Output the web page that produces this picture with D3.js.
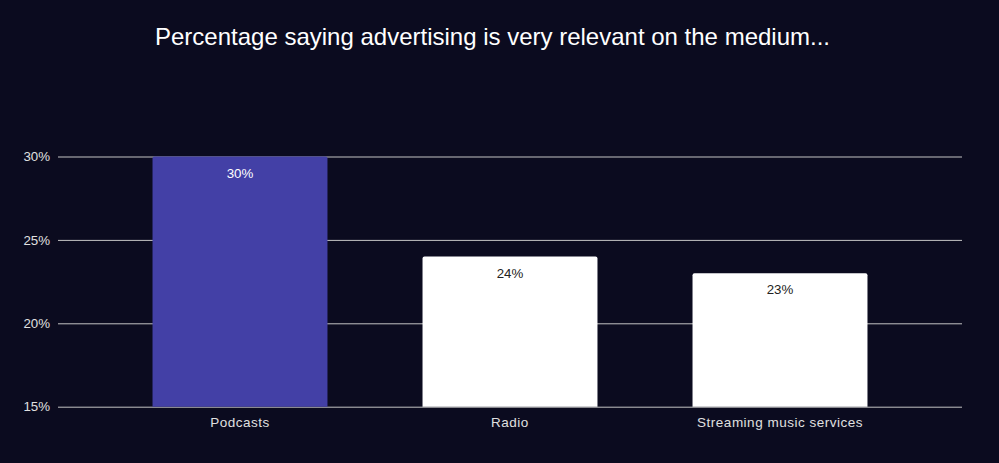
<!DOCTYPE html>
<html><head><meta charset="utf-8">
<script src="https://cdn.jsdelivr.net/npm/d3@7"></script>
<style>html,body{margin:0;padding:0;background:#0b0b1f;}svg{display:block;}</style>
</head><body>
<script>
const categories = ["Podcasts", "Radio", "Streaming music services"];
const values = [30, 24, 23];
const barColors = ["#4340a6", "#ffffff", "#ffffff"];
const labelColors = ["#ffffff", "#222222", "#222222"];
const yTicks = [15, 20, 25, 30];
const title = "Percentage saying advertising is very relevant on the medium...";

const W = 999, H = 463;
const svg = d3.select("body").append("svg").attr("width", W).attr("height", H);
svg.append("rect").attr("width", W).attr("height", H).attr("fill", "#0b0b1f");

const x = d3.scaleBand().domain(categories).range([105, 915]).paddingInner(0.352).paddingOuter(0.176);
const y = d3.scaleLinear().domain([15, 30]).range([406.7, 156.5]);
const gridL = 58, gridR = 962;

svg.append("text").attr("x", 492.5).attr("y", 45).attr("text-anchor", "middle")
  .attr("fill", "#ffffff").attr("font-family", "Liberation Sans, Arial, sans-serif")
  .attr("font-size", 24).text(title);

const yAxis = svg.append("g").attr("transform", `translate(${gridL},0)`)
  .call(d3.axisLeft(y).tickValues(yTicks).tickSize(-(gridR - gridL)).tickPadding(8).tickFormat(d => d + "%"));
yAxis.select(".domain").remove();
yAxis.selectAll(".tick line").attr("stroke", "#c4c4c4").attr("stroke-width", 1);
yAxis.selectAll(".tick text").attr("fill", "#e0e0e0").attr("font-size", 13.3)
  .attr("font-family", "Liberation Sans, Arial, sans-serif");

const bw = x.bandwidth();
const r = 2;
svg.append("g").selectAll("path").data(categories).join("path")
  .attr("d", (c, i) => {
    const x0 = x(c), x1 = x0 + bw, y0 = y(values[i]), y1 = y(15);
    return `M${x0},${y1}V${y0 + r}Q${x0},${y0} ${x0 + r},${y0}H${x1 - r}Q${x1},${y0} ${x1},${y0 + r}V${y1}Z`;
  })
  .attr("fill", (c, i) => barColors[i]);

svg.append("g").selectAll("text").data(categories).join("text")
  .attr("x", c => x(c) + bw / 2)
  .attr("y", (c, i) => y(values[i]) + 21)
  .attr("text-anchor", "middle").attr("font-size", 13.3)
  .attr("font-family", "Liberation Sans, Arial, sans-serif")
  .attr("fill", (c, i) => labelColors[i])
  .text((c, i) => values[i] + "%");

const xAxis = svg.append("g").attr("transform", `translate(0,${y(15)})`)
  .call(d3.axisBottom(x).tickSize(0).tickPadding(11));
xAxis.select(".domain").remove();
xAxis.selectAll(".tick text").attr("fill", "#e0e0e0").attr("font-size", 13.5)
  .attr("letter-spacing", "0.5px")
  .attr("font-family", "Liberation Sans, Arial, sans-serif");
</script>
</body></html>
